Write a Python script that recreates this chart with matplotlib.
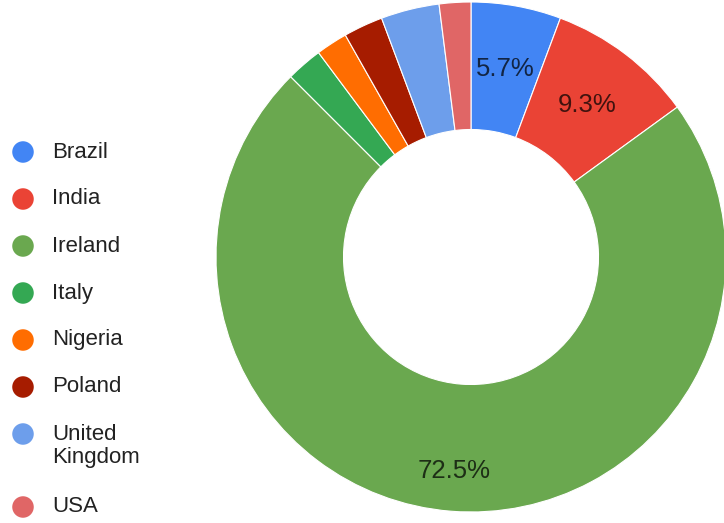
import matplotlib
matplotlib.use("Agg")
import matplotlib.pyplot as plt

countries = ["Brazil", "India", "Ireland", "Italy", "Nigeria", "Poland",
             "United Kingdom", "USA"]
shares = [5.7, 9.3, 72.5, 2.3, 2.0, 2.5, 3.7, 2.0]
colors = ["#4285f4", "#ea4335", "#6aa84f", "#34a853", "#ff6d01", "#a61c00",
          "#6d9eeb", "#e06666"]
legend_labels = ["Brazil", "India", "Ireland", "Italy", "Nigeria", "Poland",
                 "United\nKingdom", "USA"]

plt.rcParams["font.family"] = ["Liberation Sans", "DejaVu Sans"]

W, H = 724, 523
fig = plt.figure(figsize=(W / 100, H / 100), dpi=100)
ax = fig.add_axes([0, 0, 1, 1])

cx, cy, r = 471, H - 257, 255


def pct_label(p):
    return f"{p:.1f}%" if p >= 5 else ""


wedges, _, autotexts = ax.pie(
    shares, colors=colors, startangle=90, counterclock=False,
    radius=r, center=(cx, cy), autopct=pct_label, pctdistance=0.75,
    wedgeprops=dict(width=r * 0.5, edgecolor="white", linewidth=0.8),
    textprops=dict(fontsize=18.5, color="black", alpha=0.72),
)

# push the big slice's label further out toward the rim
for t, v in zip(autotexts, shares):
    if v > 50:
        x, y = t.get_position()
        t.set_position((cx + (x - cx) * 1.12, cy + (y - cy) * 1.12))

ax.set_xlim(0, W)
ax.set_ylim(0, H)
ax.set_aspect("equal")
ax.axis("off")

# legend column on the left
y = H - 152
for lab, col in zip(legend_labels, colors):
    ax.scatter([23], [y], s=240, color=col, edgecolors="none", clip_on=False)
    ax.text(52, y + 10.5, lab, fontsize=16, color="#222222", ha="left",
            va="top", linespacing=1.15)
    y -= 47 + 26 * lab.count("\n")

fig.savefig("out.png", dpi=100)
